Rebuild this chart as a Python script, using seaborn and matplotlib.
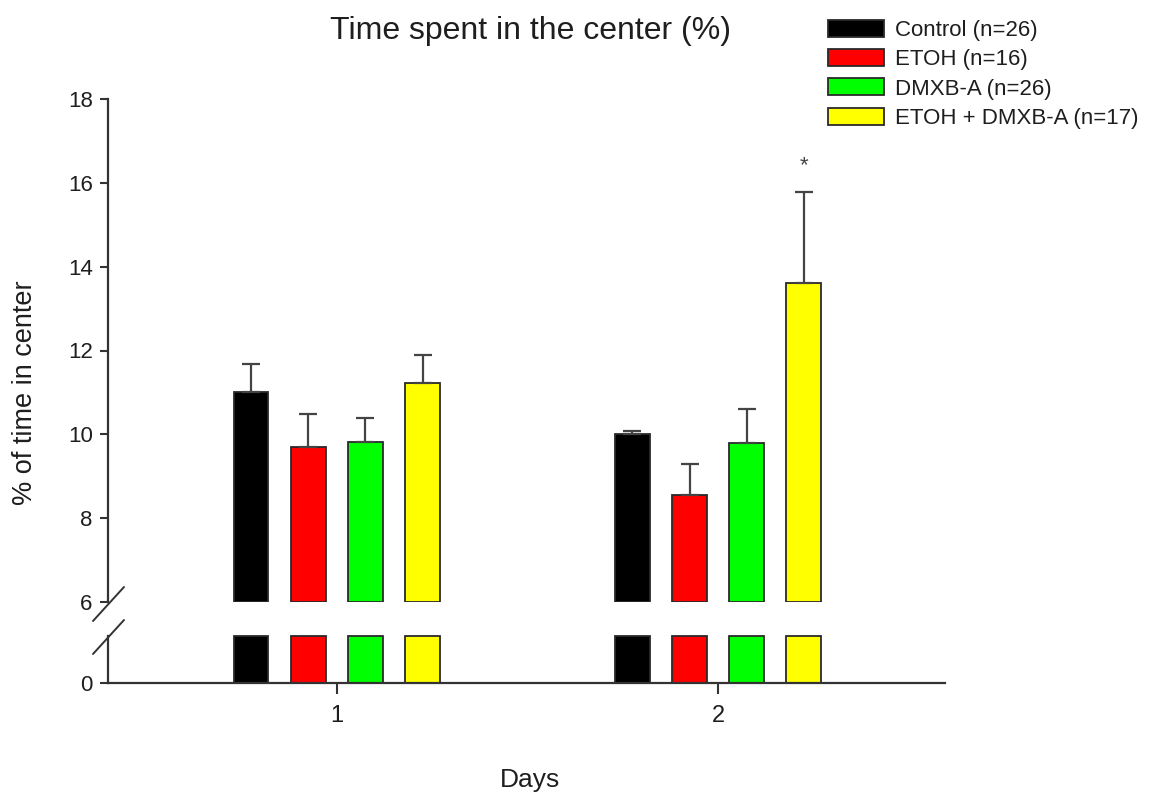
import numpy as np
import pandas as pd
import seaborn as sns
import matplotlib
matplotlib.use("Agg")
import matplotlib.pyplot as plt
from matplotlib.lines import Line2D

# ---- data -------------------------------------------------------------
days = ["1", "2"]
groups = ["Control (n=26)", "ETOH (n=16)", "DMXB-A (n=26)", "ETOH + DMXB-A (n=17)"]
control_mean = [11.0, 10.0]
etoh_mean = [9.70, 8.56]
dmxba_mean = [9.82, 9.80]
etoh_dmxba_mean = [11.22, 13.60]
control_sem = [0.68, 0.08]
etoh_sem = [0.79, 0.74]
dmxba_sem = [0.56, 0.80]
etoh_dmxba_sem = [0.68, 2.18]
significance = {("2", "ETOH + DMXB-A (n=17)"): "*"}

colors = ["#000000", "#ff0000", "#00ff00", "#ffff00"]

means = [control_mean, etoh_mean, dmxba_mean, etoh_dmxba_mean]
sems = [control_sem, etoh_sem, dmxba_sem, etoh_dmxba_sem]
df = pd.DataFrame(
    [(d, g, m[i], s[i]) for g, m, s in zip(groups, means, sems) for i, d in enumerate(days)],
    columns=["day", "group", "mean", "sem"],
)

# ---- style ------------------------------------------------------------
sns.set_theme(style="white")
plt.rcParams["font.family"] = ["Liberation Sans", "DejaVu Sans"]
text_col = "#1e1e1e"
axis_col = "#333333"

W, H = 1155, 799
fig = plt.figure(figsize=(W / 100, H / 100), dpi=100)

def fx(px):
    return px / W

def fy(py):
    return 1 - py / H

x_left, x_right = 108, 945
ax_up = fig.add_axes([fx(x_left), fy(602), fx(x_right - x_left), fy(99) - fy(602)])
ax_lo = fig.add_axes([fx(x_left), fy(683), fx(x_right - x_left), fy(636) - fy(683)])

upper_lim = (6, 18)
lower_lim = (0, 1.1)

bar_kws = dict(
    data=df, x="day", y="mean", hue="group", order=days, hue_order=groups,
    palette=colors, width=0.6, gap=0.39, errorbar=None,
    edgecolor="#2a2a2a", linewidth=1.3, saturation=1,
)
sns.barplot(ax=ax_up, legend=True, **bar_kws)
sns.barplot(ax=ax_lo, legend=False, **bar_kws)

xlim = (-0.60, 1.595)
for ax in (ax_up, ax_lo):
    ax.set_xlim(*xlim)
    for side in ("top", "right"):
        ax.spines[side].set_visible(False)
    ax.spines["left"].set_color(axis_col)
    ax.spines["left"].set_linewidth(1.6)
    ax.set_xlabel("")
    ax.set_ylabel("")
    ax.set_facecolor("none")

# upper segment: bars start at the break
ax_up.set_ylim(*upper_lim)
for p in ax_up.patches:
    top = p.get_y() + p.get_height()
    p.set_y(upper_lim[0])
    p.set_height(top - upper_lim[0])
ax_up.spines["bottom"].set_visible(False)
ax_up.set_yticks(np.arange(6, 19, 2))
ax_up.set_yticklabels([str(v) for v in range(6, 19, 2)])
ax_up.tick_params(axis="y", left=True, length=6, width=1.5, color=axis_col,
                  labelsize=16, labelcolor=text_col, pad=5)
ax_up.tick_params(axis="x", bottom=False, labelbottom=False)

# lower segment: bars cut at the break
ax_lo.set_ylim(*lower_lim)
for p in ax_lo.patches:
    p.set_height(min(p.get_height(), lower_lim[1]))
    p.set_clip_on(False)
ax_lo.spines["bottom"].set_color(axis_col)
ax_lo.spines["bottom"].set_linewidth(1.6)
ax_lo.set_yticks([0])
ax_lo.set_yticklabels(["0"])
ax_lo.tick_params(axis="y", left=True, length=6, width=1.5, color=axis_col,
                  labelsize=16, labelcolor=text_col, pad=5)
ax_lo.tick_params(axis="x", bottom=True, length=8, width=1.5, color=axis_col,
                  labelsize=17, labelcolor=text_col, pad=8)

# one-sided SEM error bars and significance marks
for container, g in zip(ax_up.containers, groups):
    sub = df[df["group"] == g].set_index("day").loc[days]
    xs = [b.get_x() + b.get_width() / 2 for b in container]
    ax_up.errorbar(xs, sub["mean"], yerr=[np.zeros(len(days)), sub["sem"]],
                   fmt="none", ecolor="#444444", elinewidth=1.6, capsize=6.5,
                   capthick=1.6, zorder=1)
    for x, d in zip(xs, days):
        mark = significance.get((d, g))
        if mark:
            ax_up.text(x, sub.loc[d, "mean"] + sub.loc[d, "sem"] + 0.62, mark,
                       ha="center", va="center", fontsize=16, color="#444444")

# axis break marks
def break_mark(cx, cy):
    fig.add_artist(Line2D([fx(cx - 15.5), fx(cx + 15.5)], [fy(cy + 17), fy(cy - 17)],
                          color=axis_col, lw=1.4, transform=fig.transFigure))

break_mark(108.5, 604)
break_mark(108.5, 637)

# legend
handles, labels = ax_up.get_legend_handles_labels()
ax_up.get_legend().remove()
leg = fig.legend(handles, labels, loc="upper left", bbox_to_anchor=(fx(828), fy(20)),
                 frameon=False, fontsize=16, handlelength=2.5, handleheight=0.8,
                 handletextpad=0.5, labelspacing=0.36, borderpad=0, borderaxespad=0)
for t in leg.get_texts():
    t.set_color(text_col)
for h in leg.legend_handles:
    h.set_edgecolor("#2a2a2a")
    h.set_linewidth(1.3)

# titles and axis labels
fig.text(fx(530), fy(39), "Time spent in the center (%)", ha="center", va="baseline",
         fontsize=23, color=text_col)
fig.text(fx(25), fy(393), "% of time in center", ha="center", va="center",
         rotation=90, fontsize=19.5, color=text_col)
fig.text(fx(530), fy(787), "Days", ha="center", va="baseline",
         fontsize=19, color=text_col)

fig.savefig("out.png", dpi=100, facecolor="white")
